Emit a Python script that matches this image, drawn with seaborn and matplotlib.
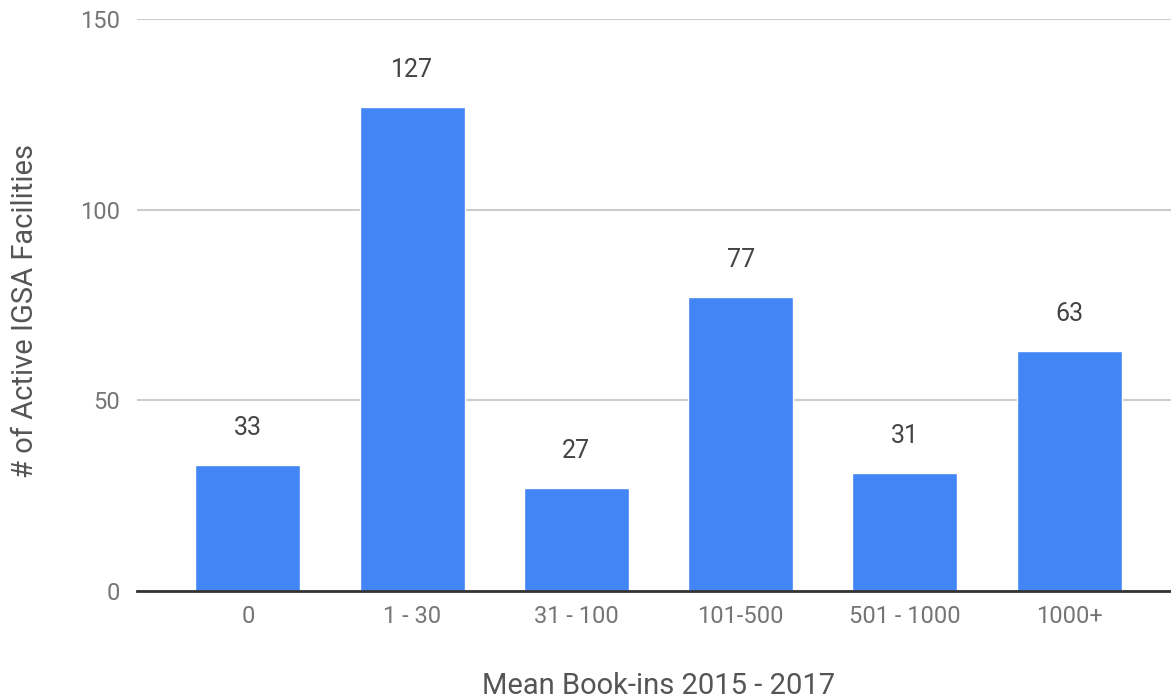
import pandas as pd
import seaborn as sns
import matplotlib.pyplot as plt

#%%
# values
categories = ['0', '1 - 30', '31 - 100', '101-500', '501 - 1000', '1000+']
facilities = [33, 127, 27, 77, 31, 63]
y_ticks = [0, 50, 100, 150]

df = pd.DataFrame({'bookins': categories, 'count': facilities})

#%%
sns.set_theme(style='white')
plt.rcParams['font.family'] = ['Roboto', 'DejaVu Sans']

fig = plt.figure(figsize=(11.71, 7), dpi=100)
ax = fig.add_axes([0.117, 0.156, 0.883, 0.817])

sns.barplot(data=df, x='bookins', y='count', color='#4285F4', saturation=1,
            width=0.64, ax=ax, zorder=3)

# value labels above bars
for i, v in enumerate(facilities):
    ax.annotate(str(v), (i, v), xytext=(0, 18), textcoords='offset points',
                ha='center', va='bottom', fontsize=18, color='#444444')

ax.set_ylim(0, 150)
ax.set_xlim(-0.675, 5.62)
ax.set_yticks(y_ticks)
ax.yaxis.grid(True, color='#cccccc', linewidth=1.5, zorder=0)
ax.set_axisbelow(True)
for s in ['top', 'right', 'left']:
    ax.spines[s].set_visible(False)
ax.spines['bottom'].set_color('#333333')
ax.spines['bottom'].set_linewidth(2)
ax.spines['bottom'].set_zorder(4)

ax.tick_params(axis='both', length=0, labelsize=17, labelcolor='#757575')
ax.tick_params(axis='y', pad=12)
ax.tick_params(axis='x', pad=10)

ax.set_xlabel('Mean Book-ins 2015 - 2017', fontsize=21, color='#555555', va='center')
ax.set_ylabel('# of Active IGSA Facilities', fontsize=21, color='#555555', va='center')
ax.xaxis.set_label_coords(0.504, -0.166)
ax.yaxis.set_label_coords(-0.108, 0.49)

plt.savefig('out.png', dpi=100)
